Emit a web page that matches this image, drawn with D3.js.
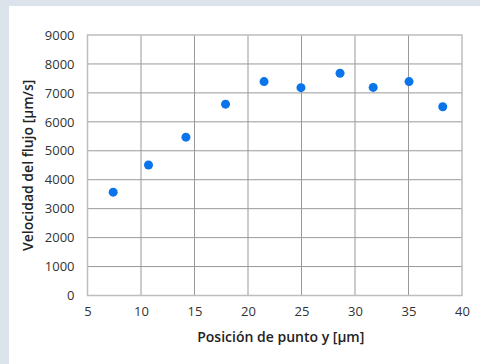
<!DOCTYPE html>
<html>
<head>
<meta charset="utf-8">
<script src="https://cdn.jsdelivr.net/npm/d3@7"></script>
<style>
  body { margin: 0; background: #dde3ea; }
  .chart svg { display: block; }
  .tick text { font-family: 'Open Sans', sans-serif; font-size: 13px; fill: #333; }
  .title { font-family: 'Open Sans', sans-serif; font-size: 14px; font-weight: 600; fill: #222; }
</style>
</head>
<body>
<div class="chart"></div>
<script>
// data
const posicion = [7.4, 10.7, 14.2, 17.9, 21.5, 24.95, 28.6, 31.7, 35.05, 38.2];
const velocidad = [3570, 4510, 5470, 6610, 7390, 7180, 7680, 7190, 7390, 6520];
const xTicks = [5, 10, 15, 20, 25, 30, 35, 40];
const yTicks = [0, 1000, 2000, 3000, 4000, 5000, 6000, 7000, 8000, 9000];

const W = 480, H = 364;
const margin = {top: 35, right: 18, bottom: 68.5, left: 87.5};
const width = W - margin.left - margin.right;
const height = H - margin.top - margin.bottom;

const svg = d3.select('.chart').append('svg')
  .attr('width', W)
  .attr('height', H);

// white panel
svg.append('rect')
  .attr('x', 9).attr('y', 6)
  .attr('width', W - 9).attr('height', H - 6)
  .attr('fill', '#fff');

const x = d3.scaleLinear().domain([5, 40]).range([0, width]);
const y = d3.scaleLinear().domain([0, 9000]).range([height, 0]);

const g = svg.append('g')
  .attr('transform', 'translate(' + margin.left + ', ' + margin.top + ')');

// grid
g.append('g')
  .selectAll('line')
  .data(xTicks.slice(1, -1))
  .enter().append('line')
  .attr('x1', d => x(d)).attr('x2', d => x(d))
  .attr('y1', 0).attr('y2', height)
  .attr('stroke', '#999');

g.append('g')
  .selectAll('line')
  .data(yTicks.slice(1, -1))
  .enter().append('line')
  .attr('x1', 0).attr('x2', width)
  .attr('y1', d => y(d)).attr('y2', d => y(d))
  .attr('stroke', '#999');

g.append('rect')
  .attr('width', width).attr('height', height)
  .attr('fill', 'none')
  .attr('stroke', '#bdbdbd')
  .attr('stroke-width', 1.5);

// axes
g.append('g')
  .attr('transform', 'translate(0, ' + height + ')')
  .call(d3.axisBottom(x).tickValues(xTicks).tickSize(0).tickPadding(11))
  .call(a => a.select('.domain').remove());

g.append('g')
  .call(d3.axisLeft(y).tickValues(yTicks).tickSize(0).tickPadding(13).tickFormat(d3.format('d')))
  .call(a => a.select('.domain').remove());

// points
g.selectAll('.dot')
  .data(posicion)
  .enter().append('circle')
  .attr('class', 'dot')
  .attr('cx', d => x(d))
  .attr('cy', (d, i) => y(velocidad[i]))
  .attr('r', 4.5)
  .attr('fill', '#0a74ea');

// titles
g.append('text')
  .attr('class', 'title')
  .attr('x', width / 2 + 6)
  .attr('y', height + 46)
  .attr('text-anchor', 'middle')
  .text('Posición de punto y [µm]');

g.append('text')
  .attr('class', 'title')
  .attr('transform', 'rotate(-90)')
  .attr('x', -height / 2)
  .attr('y', -55)
  .attr('text-anchor', 'middle')
  .text('Velocidad del flujo [µm/s]');
</script>
</body>
</html>
